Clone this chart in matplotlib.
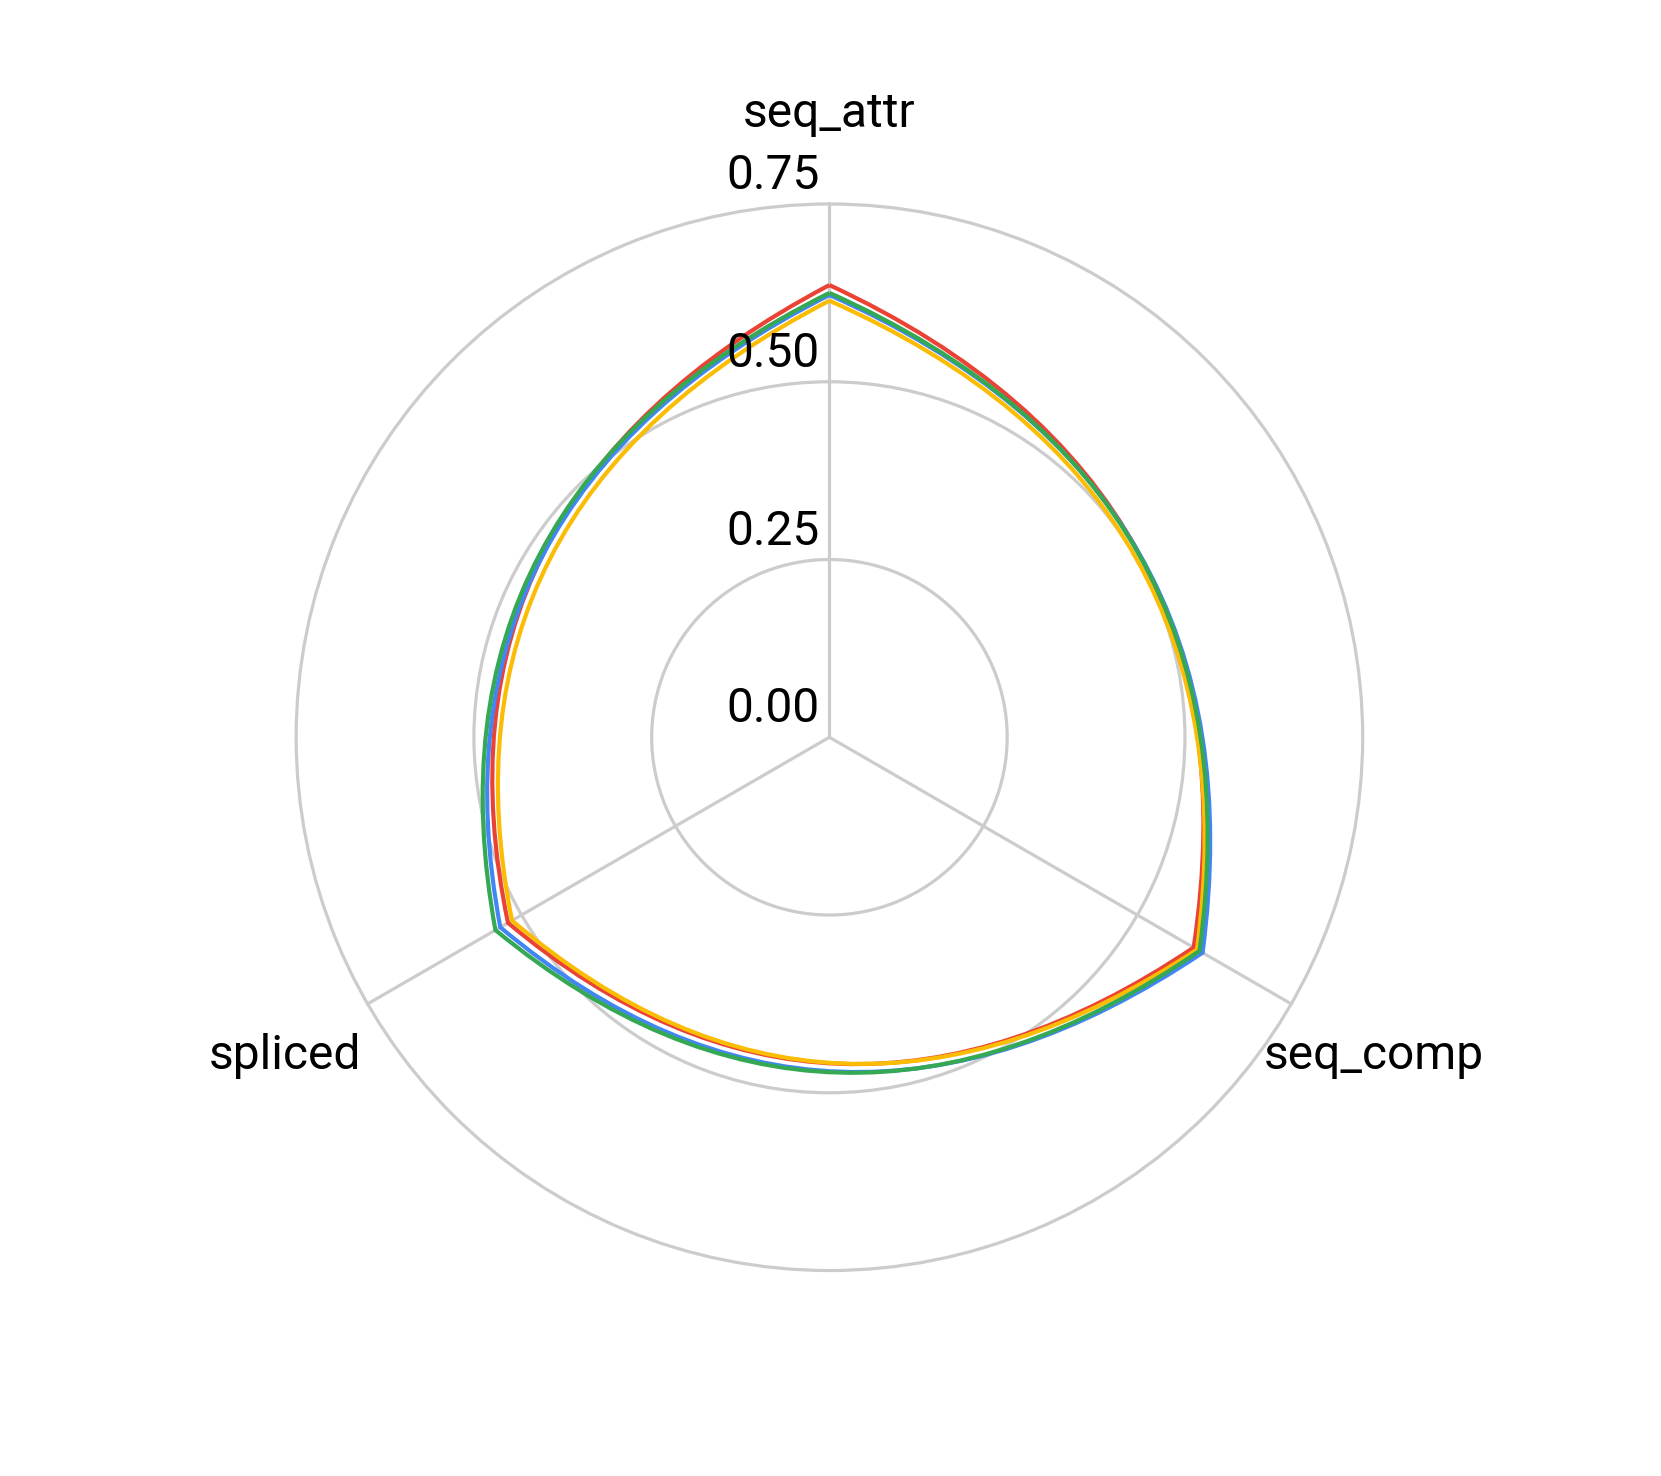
import numpy as np
import matplotlib
matplotlib.use("Agg")
import matplotlib.pyplot as plt
from matplotlib.path import Path
from matplotlib.patches import PathPatch
from matplotlib.transforms import offset_copy, ScaledTranslation

plt.rcParams["font.family"] = ["Roboto", "DejaVu Sans"]

# axes of the radar, clockwise from the top
categories = ["seq_attr", "seq_comp", "spliced"]
r_ticks = [0.0, 0.25, 0.5, 0.75]
r_tick_labels = ["0.00", "0.25", "0.50", "0.75"]

# one value per category for each series
red = [0.636, 0.5915, 0.522]
blue = [0.622, 0.606, 0.5345]
yellow = [0.614, 0.597, 0.5155]
green = [0.625, 0.601, 0.5424]

series = [(red, "#EA4335"), (blue, "#4285F4"), (yellow, "#FBBC04"), (green, "#34A853")]

BULGE = 1.15  # how far the sides bow out between two spokes
FS = 34.5


def radar_path(angles, values):
    """Closed loop through the points, each side a quadratic curve."""
    n = len(values)
    step = 2 * np.pi / n
    verts = [(angles[0], values[0])]
    codes = [Path.MOVETO]
    for i in range(n):
        j = (i + 1) % n
        t0 = angles[i]
        ctrl = (t0 + step / 2, BULGE * (values[i] + values[j]) / 2)
        verts += [ctrl, (t0 + step, values[j])]
        codes += [Path.CURVE3, Path.CURVE3]
    return Path(verts, codes)


fig = plt.figure(figsize=(16.61, 14.76), dpi=100)
ax = fig.add_axes([0.1783, 0.1392, 0.6421, 0.7226], projection="polar")
ax.set_theta_offset(np.pi / 2)
ax.set_theta_direction(-1)

angles = np.linspace(0, 2 * np.pi, len(categories), endpoint=False)

for vals, color in series:
    patch = PathPatch(radar_path(angles, vals), facecolor="none", edgecolor=color,
                      lw=3, joinstyle="miter", zorder=3)
    ax.add_patch(patch)

ax.set_xlim(0, 2 * np.pi)
ax.set_ylim(0, 0.75)
ax.set_xticks(angles)
ax.set_xticklabels(categories, fontsize=FS)
ax.tick_params(axis="x", pad=58)
ax.set_yticks(r_ticks)
ax.set_yticklabels([])
ax.grid(color="#cccccc", lw=2.3)
for gl in ax.yaxis.get_gridlines() + ax.xaxis.get_gridlines():
    gl.set_clip_on(False)
ax.spines["polar"].set_visible(False)

# nudge the category names down a little
nudge = ScaledTranslation(0, -5 / 100, fig.dpi_scale_trans)
for lab in ax.get_xticklabels():
    lab.set_transform(lab.get_transform() + nudge)

lab_tr = offset_copy(ax.transData, fig=fig, x=-10, y=28, units="dots")
for v, lab in zip(r_ticks, r_tick_labels):
    ax.text(0, v, lab, transform=lab_tr, ha="right", va="center", fontsize=FS)

fig.savefig("out.png", dpi=100)
